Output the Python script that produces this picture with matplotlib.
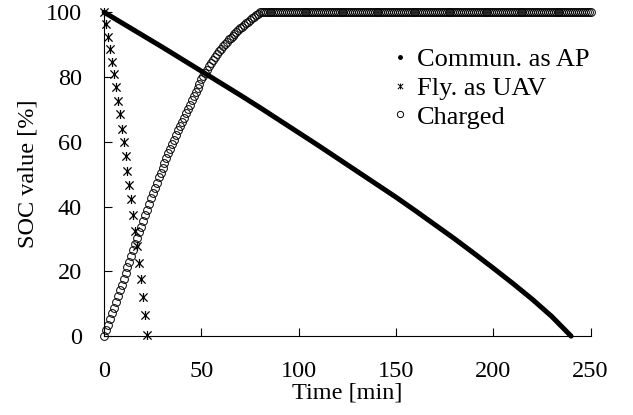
import matplotlib
matplotlib.use("Agg")
import matplotlib.pyplot as plt
from matplotlib.lines import Line2D
from matplotlib.path import Path

plt.rcParams['font.family'] = ['Liberation Serif', 'DejaVu Serif']
plt.rcParams['font.size'] = 17.5

# SOC when communicating as access point (read every 10 min)
ap_time = [0, 10, 20, 30, 40, 50, 60, 70, 80, 90, 100, 110, 120,
           130, 140, 150, 160, 170, 180, 190, 200, 210, 220, 230, 240]
ap_soc = [100, 96.4, 92.8, 89.2, 85.5, 81.8, 78.1, 74.4, 70.6, 66.7, 62.8, 58.9, 54.9,
          50.9, 46.9, 42.9, 38.7, 34.4, 30.1, 25.6, 21.0, 16.3, 11.4, 6.1, 0]

# SOC when flying as UAV (one point per minute)
uav_time = list(range(0, 23))
uav_soc = [100, 96.5, 92.4, 88.8, 84.7, 80.8, 76.9, 72.6, 68.5, 64.1, 60.0, 55.6,
           51.1, 46.6, 42.2, 37.3, 32.5, 27.9, 22.6, 17.5, 12.0, 6.5, 0.3]

# SOC while charging (one point per minute, 0..250)
chg_time = list(range(0, 251))
chg_rise = [0.0, 1.8, 3.5, 5.3, 7.0, 8.8, 10.6, 12.3, 14.1, 15.8,
            17.6, 19.4, 21.2, 23.0, 24.8, 26.6, 28.4, 30.2, 32.0, 33.8,
            35.6, 37.4, 39.1, 40.8, 42.5, 44.2, 45.8, 47.4, 49.0, 50.5,
            52.0, 53.5, 55.0, 56.4, 57.9, 59.3, 60.7, 62.1, 63.5, 64.9,
            66.2, 67.5, 68.9, 70.2, 71.5, 72.8, 74.1, 75.4, 76.7, 78.0,
            79.3, 80.3, 81.3, 82.3, 83.3, 84.3, 85.2, 86.1, 87.0, 87.9,
            88.7, 89.5, 90.2, 90.9, 91.6, 92.2, 92.8, 93.4, 93.9, 94.5,
            95.0, 95.5, 96.1, 96.6, 97.1, 97.6, 98.1, 98.6, 99.1, 99.5,
            100.0]
chg_full = [100.0] * 170
chg_soc = chg_rise + chg_full

labels = ["Commun. as AP", "Fly. as UAV", "Charged"]

# "ж"-like asterisk marker
star = Path([(-1, -1), (1, 1), (-1, 1), (1, -1), (0, -1.1), (0, 1.1)],
            [Path.MOVETO, Path.LINETO, Path.MOVETO, Path.LINETO, Path.MOVETO, Path.LINETO])

fig = plt.figure(figsize=(6.33, 4.15), dpi=100)
ax = fig.add_axes([0.1645, 0.19, 0.7685, 0.7805])

ax.plot(ap_time, ap_soc, color='black', lw=3.6, solid_capstyle='round', clip_on=False)
ax.plot(uav_time, uav_soc, ls='none', marker=star, ms=6.5, mew=0.9,
        color='black', clip_on=False)
ax.plot(chg_time, chg_soc, ls='none', marker='o', ms=5.6, mew=0.7,
        mfc='none', mec='black', clip_on=False)

ax.set_xlim(0, 250)
ax.set_ylim(0, 100)
ax.set_xticks([0, 50, 100, 150, 200, 250])
ax.set_yticks([0, 20, 40, 60, 80, 100])
ax.spines['top'].set_visible(False)
ax.spines['right'].set_visible(False)
ax.spines['left'].set_linewidth(0.8)
ax.spines['bottom'].set_linewidth(0.8)
ax.tick_params(direction='in', length=6, width=0.8, pad=16)
ax.tick_params(axis='x', pad=18)

ax.set_xlabel("Time [min]", labelpad=0)
ax.set_ylabel("SOC value [%]", labelpad=5)

handles = [
    Line2D([], [], ls='none', marker='.', ms=5, color='black'),
    Line2D([], [], ls='none', marker=star, ms=4.2, mew=0.7, color='black'),
    Line2D([], [], ls='none', marker='o', ms=4.5, mew=0.7, mfc='none', mec='black'),
]
ax.legend(handles, labels, loc='upper left', bbox_to_anchor=(0.571, 0.923),
          frameon=False, fontsize=19, handlelength=0.6, handletextpad=0.32,
          labelspacing=0.2, borderaxespad=0)

fig.savefig("out.png", dpi=100)
